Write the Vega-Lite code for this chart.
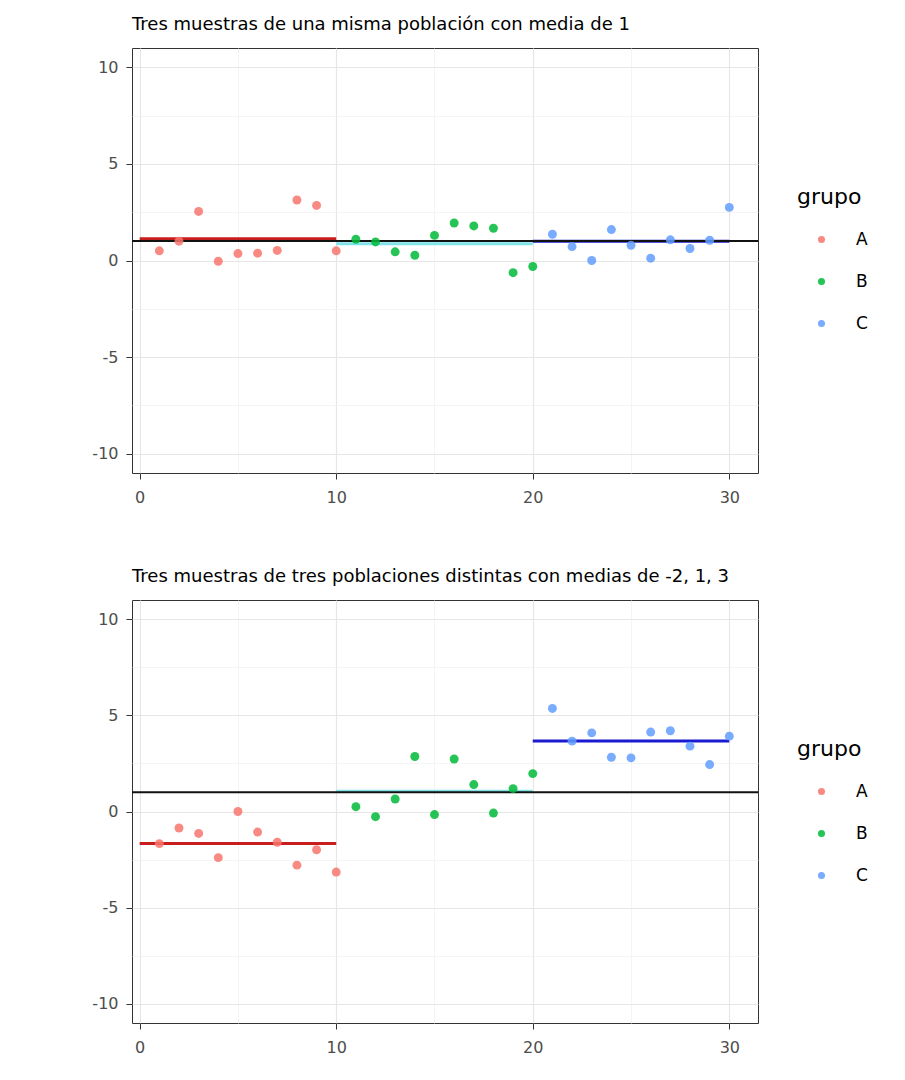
{
  "$schema": "https://vega.github.io/schema/vega-lite/v6.json",
  "background": "white",
  "padding": {"left": 91, "top": 15, "right": 5, "bottom": 5},
  "spacing": 61,
  "datasets": {
    "puntos1": [
      {"x": 1, "y": 0.5, "grupo": "A"}, {"x": 2, "y": 1.0, "grupo": "A"}, {"x": 3, "y": 2.54, "grupo": "A"},
      {"x": 4, "y": -0.04, "grupo": "A"}, {"x": 5, "y": 0.36, "grupo": "A"}, {"x": 6, "y": 0.38, "grupo": "A"},
      {"x": 7, "y": 0.52, "grupo": "A"}, {"x": 8, "y": 3.13, "grupo": "A"}, {"x": 9, "y": 2.85, "grupo": "A"},
      {"x": 10, "y": 0.5, "grupo": "A"},
      {"x": 11, "y": 1.1, "grupo": "B"}, {"x": 12, "y": 0.96, "grupo": "B"}, {"x": 13, "y": 0.45, "grupo": "B"},
      {"x": 14, "y": 0.27, "grupo": "B"}, {"x": 15, "y": 1.3, "grupo": "B"}, {"x": 16, "y": 1.94, "grupo": "B"},
      {"x": 17, "y": 1.79, "grupo": "B"}, {"x": 18, "y": 1.67, "grupo": "B"}, {"x": 19, "y": -0.63, "grupo": "B"},
      {"x": 20, "y": -0.31, "grupo": "B"},
      {"x": 21, "y": 1.36, "grupo": "C"}, {"x": 22, "y": 0.72, "grupo": "C"}, {"x": 23, "y": 0.0, "grupo": "C"},
      {"x": 24, "y": 1.6, "grupo": "C"}, {"x": 25, "y": 0.79, "grupo": "C"}, {"x": 26, "y": 0.12, "grupo": "C"},
      {"x": 27, "y": 1.07, "grupo": "C"}, {"x": 28, "y": 0.62, "grupo": "C"}, {"x": 29, "y": 1.05, "grupo": "C"},
      {"x": 30, "y": 2.75, "grupo": "C"}
    ],
    "medias1": [
      {"grupo": "A", "x": 0, "x2": 10, "y": 1.12},
      {"grupo": "B", "x": 10, "x2": 20, "y": 0.87},
      {"grupo": "C", "x": 20, "x2": 30, "y": 1.0}
    ],
    "global1": [{"y": 1.01}],
    "puntos2": [
      {"x": 1, "y": -1.67, "grupo": "A"}, {"x": 2, "y": -0.86, "grupo": "A"}, {"x": 3, "y": -1.14, "grupo": "A"},
      {"x": 4, "y": -2.4, "grupo": "A"}, {"x": 5, "y": 0.0, "grupo": "A"}, {"x": 6, "y": -1.07, "grupo": "A"},
      {"x": 7, "y": -1.6, "grupo": "A"}, {"x": 8, "y": -2.79, "grupo": "A"}, {"x": 9, "y": -1.99, "grupo": "A"},
      {"x": 10, "y": -3.15, "grupo": "A"},
      {"x": 11, "y": 0.25, "grupo": "B"}, {"x": 12, "y": -0.27, "grupo": "B"}, {"x": 13, "y": 0.65, "grupo": "B"},
      {"x": 14, "y": 2.86, "grupo": "B"}, {"x": 15, "y": -0.16, "grupo": "B"}, {"x": 16, "y": 2.73, "grupo": "B"},
      {"x": 17, "y": 1.4, "grupo": "B"}, {"x": 18, "y": -0.08, "grupo": "B"}, {"x": 19, "y": 1.19, "grupo": "B"},
      {"x": 20, "y": 1.97, "grupo": "B"},
      {"x": 21, "y": 5.36, "grupo": "C"}, {"x": 22, "y": 3.66, "grupo": "C"}, {"x": 23, "y": 4.09, "grupo": "C"},
      {"x": 24, "y": 2.82, "grupo": "C"}, {"x": 25, "y": 2.79, "grupo": "C"}, {"x": 26, "y": 4.13, "grupo": "C"},
      {"x": 27, "y": 4.2, "grupo": "C"}, {"x": 28, "y": 3.4, "grupo": "C"}, {"x": 29, "y": 2.44, "grupo": "C"},
      {"x": 30, "y": 3.92, "grupo": "C"}
    ],
    "medias2": [
      {"grupo": "A", "x": 0, "x2": 10, "y": -1.67},
      {"grupo": "B", "x": 10, "x2": 20, "y": 1.05},
      {"grupo": "C", "x": 20, "x2": 30, "y": 3.67}
    ],
    "global2": [{"y": 1.0}]
  },
  "config": {
    "font": "DejaVu Sans",
    "view": {"stroke": "#333333", "strokeWidth": 1},
    "title": {"anchor": "start", "frame": "group", "fontSize": 18, "fontWeight": "normal", "color": "#000000", "offset": 14},
    "axis": {
      "domain": false,
      "title": null,
      "labelFontSize": 16,
      "labelColor": "#4d4d4d",
      "tickColor": "#333333",
      "tickSize": 6,
      "labelPadding": 8
    },
    "axisX": {"labelPadding": 10},
    "legend": {
      "orient": "none",
      "titleFontSize": 22,
      "titleFontWeight": "normal",
      "titleColor": "#000000",
      "labelFontSize": 17,
      "labelColor": "#000000",
      "symbolSize": 50,
      "symbolOffset": 16,
      "labelOffset": 26,
      "rowPadding": 24,
      "titlePadding": 22,
      "symbolStrokeWidth": 0
    }
  },
  "resolve": {"scale": {"color": "independent"}, "legend": {"color": "independent"}},
  "vconcat": [
    {
      "title": "Tres muestras de una misma población con media de 1",
      "width": 626,
      "height": 425,
      "resolve": {"scale": {"color": "independent"}},
      "layer": [
        {
          "data": {"name": "medias1"},
          "mark": {"type": "rule", "strokeWidth": 3},
          "encoding": {
            "x": {"field": "x", "type": "quantitative", "scale": {"domain": [-0.39, 31.46], "nice": false, "zero": false}},
            "x2": {"field": "x2"},
            "y": {"field": "y", "type": "quantitative", "scale": {"domain": [-11, 11], "nice": false}},
            "color": {"field": "grupo", "type": "nominal", "scale": {"domain": ["A", "B", "C"], "range": ["#c81e1e", "#7fe3e8", "#1a1ad0"]}, "legend": null}
          }
        },
        {
          "data": {"name": "global1"},
          "mark": {"type": "rule", "strokeWidth": 2, "color": "#111111"},
          "encoding": {
            "y": {"field": "y", "type": "quantitative"}
          }
        },
        {
          "data": {"name": "puntos1"},
          "mark": {"type": "point", "filled": true, "size": 80, "opacity": 0.85, "strokeWidth": 0},
          "encoding": {
            "x": {"field": "x", "type": "quantitative", "scale": {"domain": [-0.39, 31.46], "nice": false, "zero": false},
              "axis": {"values": [0, 5, 10, 15, 20, 25, 30], "labelExpr": "datum.value % 10 === 0 ? '' + datum.value : ''",
                "tickOpacity": {"condition": {"test": "datum.value % 10 === 0", "value": 1}, "value": 0},
                "gridColor": {"condition": {"test": "datum.value % 10 === 0", "value": "#e6e6e6"}, "value": "#f1f1f1"},
                "gridWidth": {"condition": {"test": "datum.value % 10 === 0", "value": 1.2}, "value": 0.8}}},
            "y": {"field": "y", "type": "quantitative", "scale": {"domain": [-11, 11], "nice": false},
              "axis": {"values": [-10, -7.5, -5, -2.5, 0, 2.5, 5, 7.5, 10], "labelExpr": "datum.value % 5 === 0 ? '' + datum.value : ''",
                "tickOpacity": {"condition": {"test": "datum.value % 5 === 0", "value": 1}, "value": 0},
                "gridColor": {"condition": {"test": "datum.value % 5 === 0", "value": "#e6e6e6"}, "value": "#f1f1f1"},
                "gridWidth": {"condition": {"test": "datum.value % 5 === 0", "value": 1.2}, "value": 0.8}}},
            "color": {"field": "grupo", "type": "nominal", "scale": {"domain": ["A", "B", "C"], "range": ["#F8766D", "#00BA38", "#619CFF"]},
              "legend": {"title": "grupo", "legendX": 665, "legendY": 139}}
          }
        }
      ]
    },
    {
      "title": "Tres muestras de tres poblaciones distintas con medias de -2, 1, 3",
      "width": 626,
      "height": 423,
      "resolve": {"scale": {"color": "independent"}},
      "layer": [
        {
          "data": {"name": "medias2"},
          "mark": {"type": "rule", "strokeWidth": 3},
          "encoding": {
            "x": {"field": "x", "type": "quantitative", "scale": {"domain": [-0.39, 31.46], "nice": false, "zero": false}},
            "x2": {"field": "x2"},
            "y": {"field": "y", "type": "quantitative", "scale": {"domain": [-11, 11], "nice": false}},
            "color": {"field": "grupo", "type": "nominal", "scale": {"domain": ["A", "B", "C"], "range": ["#c81e1e", "#7fe3e8", "#1a1ad0"]}, "legend": null}
          }
        },
        {
          "data": {"name": "global2"},
          "mark": {"type": "rule", "strokeWidth": 2, "color": "#111111"},
          "encoding": {
            "y": {"field": "y", "type": "quantitative"}
          }
        },
        {
          "data": {"name": "puntos2"},
          "mark": {"type": "point", "filled": true, "size": 80, "opacity": 0.85, "strokeWidth": 0},
          "encoding": {
            "x": {"field": "x", "type": "quantitative", "scale": {"domain": [-0.39, 31.46], "nice": false, "zero": false},
              "axis": {"values": [0, 5, 10, 15, 20, 25, 30], "labelExpr": "datum.value % 10 === 0 ? '' + datum.value : ''",
                "tickOpacity": {"condition": {"test": "datum.value % 10 === 0", "value": 1}, "value": 0},
                "gridColor": {"condition": {"test": "datum.value % 10 === 0", "value": "#e6e6e6"}, "value": "#f1f1f1"},
                "gridWidth": {"condition": {"test": "datum.value % 10 === 0", "value": 1.2}, "value": 0.8}}},
            "y": {"field": "y", "type": "quantitative", "scale": {"domain": [-11, 11], "nice": false},
              "axis": {"values": [-10, -7.5, -5, -2.5, 0, 2.5, 5, 7.5, 10], "labelExpr": "datum.value % 5 === 0 ? '' + datum.value : ''",
                "tickOpacity": {"condition": {"test": "datum.value % 5 === 0", "value": 1}, "value": 0},
                "gridColor": {"condition": {"test": "datum.value % 5 === 0", "value": "#e6e6e6"}, "value": "#f1f1f1"},
                "gridWidth": {"condition": {"test": "datum.value % 5 === 0", "value": 1.2}, "value": 0.8}}},
            "color": {"field": "grupo", "type": "nominal", "scale": {"domain": ["A", "B", "C"], "range": ["#F8766D", "#00BA38", "#619CFF"]},
              "legend": {"title": "grupo", "legendX": 665, "legendY": 139}}
          }
        }
      ]
    }
  ]
}
